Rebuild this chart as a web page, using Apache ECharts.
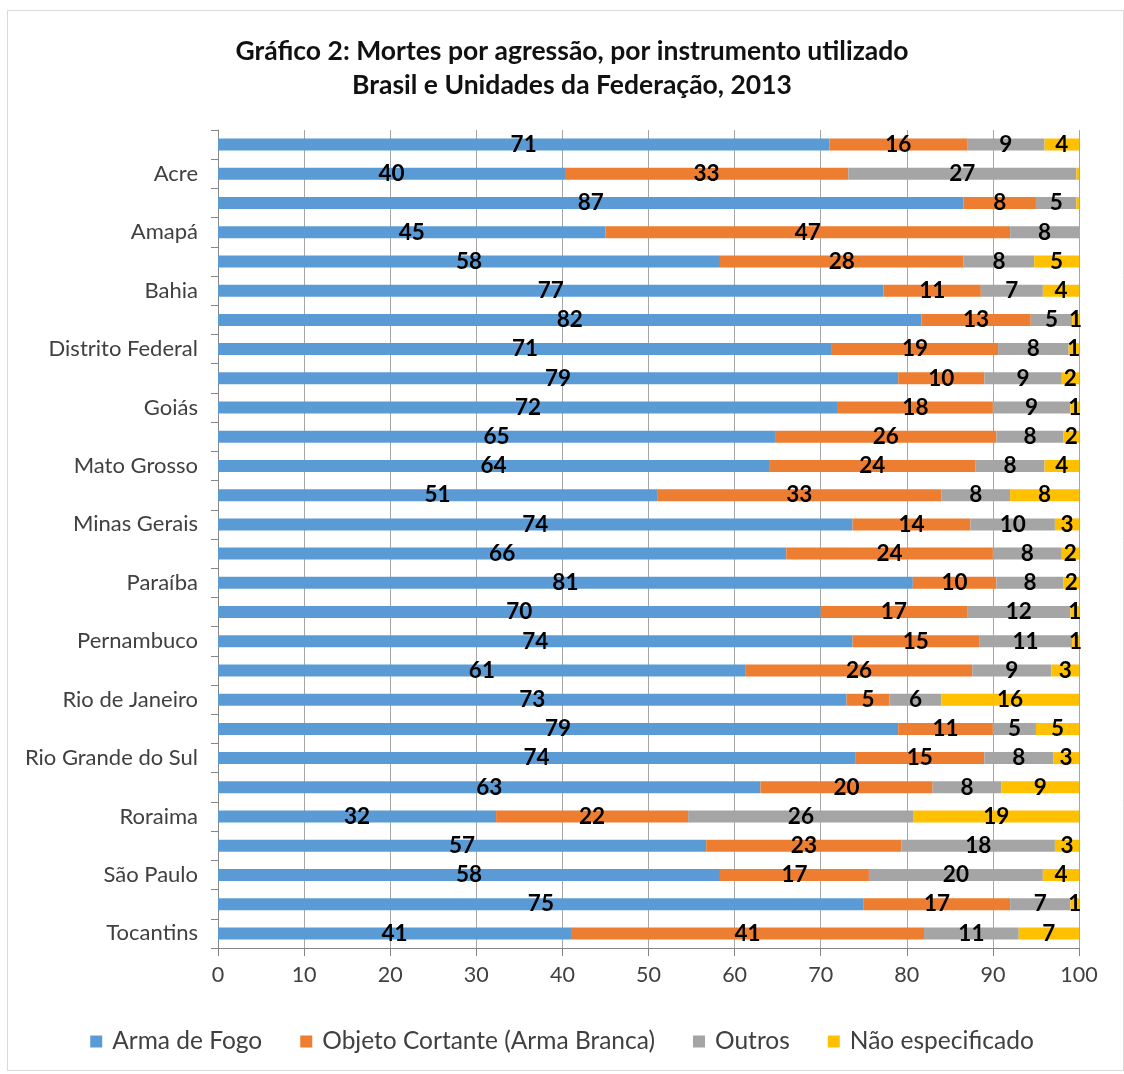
<!DOCTYPE html>
<html>
<head>
<meta charset="utf-8">
<script src="https://cdn.jsdelivr.net/npm/echarts@6/dist/echarts.min.js"></script>
<style>
  html, body { margin: 0; padding: 0; background: #fff; }
  #chart { width: 1124px; height: 1074px; }
</style>
</head>
<body>
<div id="chart"></div>
<script>
// Brasil e Unidades da Federação (top to bottom)
const categories = [
  'Brasil', 'Acre', 'Alagoas', 'Amapá', 'Amazonas', 'Bahia', 'Ceará',
  'Distrito Federal', 'Espírito Santo', 'Goiás', 'Maranhão', 'Mato Grosso',
  'Mato Grosso do Sul', 'Minas Gerais', 'Pará', 'Paraíba', 'Paraná',
  'Pernambuco', 'Piauí', 'Rio de Janeiro', 'Rio Grande do Norte',
  'Rio Grande do Sul', 'Rondônia', 'Roraima', 'Santa Catarina',
  'São Paulo', 'Sergipe', 'Tocantins'
];

// Percent of deaths by instrument (labels show the rounded value)
const armaDeFogo = [71, 40.3, 86.6, 45, 58.3, 77.3, 81.7, 71.3, 79, 72, 64.7, 64, 51, 73.7, 66, 80.7, 70, 73.7, 61.3, 73, 79, 74, 63, 32.3, 56.7, 58.3, 75, 41];
const objetoCortante = [16, 32.9, 8.4, 47, 28.3, 11.3, 12.7, 19.3, 10, 18, 25.7, 24, 33, 13.7, 24, 9.7, 17, 14.7, 26.3, 5, 11, 15, 20, 22.3, 22.7, 17.3, 17, 41];
const outros = [9, 26.5, 4.7, 8, 8.2, 7.2, 4.8, 8.2, 9, 9, 7.8, 8, 8, 9.8, 8, 7.8, 12, 10.8, 9.2, 6, 5, 8, 8, 26.2, 17.8, 20.2, 7, 11];
const naoEspecificado = [4, 0.3, 0.3, 0, 5.2, 4.2, 0.8, 1.2, 2, 1, 1.8, 4, 8, 2.8, 2, 1.8, 1, 0.8, 3.2, 16, 5, 3, 9, 19.2, 2.8, 4.2, 1, 7];

const xTicks = [0, 10, 20, 30, 40, 50, 60, 70, 80, 90, 100];

const FONT = 'Lato, "Open Sans", sans-serif';

const seriesDefs = [
  { name: 'Arma de Fogo', data: armaDeFogo, color: '#5B9BD5' },
  { name: 'Objeto Cortante (Arma Branca)', data: objetoCortante, color: '#ED7D31' },
  { name: 'Outros', data: outros, color: '#A5A5A5' },
  { name: 'Não especificado', data: naoEspecificado, color: '#FFC000' }
];

const chart = echarts.init(document.getElementById('chart'), null, { renderer: 'canvas' });

chart.setOption({
  animation: false,
  backgroundColor: '#ffffff',
  title: {
    text: 'Gráfico 2: Mortes por agressão, por instrumento utilizado\nBrasil e Unidades da Federação, 2013',
    left: 567,
    textAlign: 'center',
    top: 29,
    textStyle: {
      fontFamily: FONT,
      fontWeight: 'bold',
      fontSize: 26.5,
      lineHeight: 34,
      color: '#111'
    }
  },
  legend: {
    top: 1024,
    left: 'center',
    icon: 'rect',
    itemWidth: 12,
    itemHeight: 12,
    itemGap: 38,
    textStyle: { fontFamily: FONT, fontSize: 24.5, color: '#404040', padding: [0, 0, 0, 5] },
    data: seriesDefs.map(s => s.name)
  },
  grid: { left: 218, right: 45, top: 130, bottom: 126 },
  xAxis: {
    type: 'value',
    min: xTicks[0],
    max: xTicks[xTicks.length - 1],
    interval: 10,
    axisLine: { show: true, lineStyle: { color: '#868686', width: 1 } },
    axisTick: { show: true, length: 8, lineStyle: { color: '#868686' } },
    axisLabel: { fontFamily: FONT, fontSize: 21.5, color: '#404040', margin: 16 },
    splitLine: { show: true, lineStyle: { color: '#a6a6a6', width: 1 } }
  },
  yAxis: {
    type: 'category',
    data: categories,
    inverse: true,
    axisLine: { show: true, lineStyle: { color: '#868686', width: 1 } },
    axisTick: { show: true, interval: 0, length: 7, lineStyle: { color: '#868686' } },
    axisLabel: {
      interval: function (index) { return index % 2 === 1; },
      fontFamily: FONT,
      fontSize: 22,
      color: '#404040',
      margin: 20
    }
  },
  series: seriesDefs.map(s => ({
    name: s.name,
    type: 'bar',
    stack: 'total',
    barWidth: 12,
    clip: true,
    itemStyle: { color: s.color },
    label: {
      show: true,
      position: 'inside',
      offset: [0, 3],
      fontFamily: FONT,
      fontWeight: 'bold',
      fontSize: 22.5,
      color: '#000',
      formatter: p => (p.value >= 0.5 ? String(Math.round(p.value)) : '')
    },
    labelLayout: { hideOverlap: false },
    data: s.data
  })),
  graphic: [{
    type: 'rect',
    left: 5,
    top: 8,
    shape: { width: 1116, height: 1060 },
    style: { fill: 'none', stroke: '#d9d9d9', lineWidth: 1 },
    silent: true
  }]
});
</script>
</body>
</html>
